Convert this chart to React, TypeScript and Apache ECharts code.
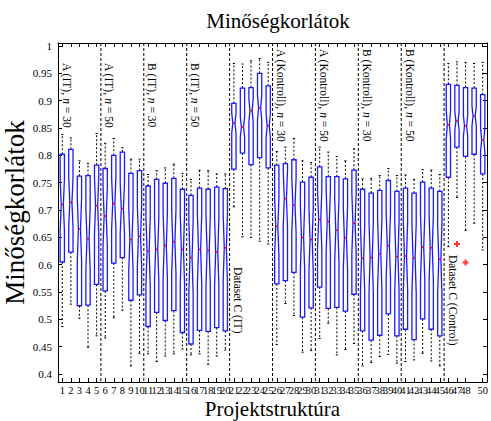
import React, { useEffect, useRef } from "react";
import * as echarts from "echarts";

const positions = [1,2,3,4,5,6,7,8,9,10,11,12,13,14,15,16,17,18,19,20,21,22,23,24,25,26,27,28,29,30,31,32,33,34,35,36,37,38,39,40,41,42,43,44,45,46,47,48,49,50];

const whiskerHigh = [0.838,0.832,0.790,0.785,0.840,0.822,0.831,0.814,0.793,0.793,0.765,0.772,0.777,0.784,0.767,0.756,0.773,0.772,0.766,0.766,0.968,0.967,0.973,0.977,0.970,0.807,0.815,0.831,0.790,0.787,0.815,0.806,0.798,0.790,0.812,0.757,0.758,0.763,0.776,0.763,0.764,0.756,0.774,0.773,0.765,0.968,0.971,0.970,0.968,0.970];
const q3 = [0.802,0.811,0.762,0.763,0.782,0.776,0.800,0.806,0.767,0.772,0.744,0.756,0.749,0.758,0.738,0.727,0.740,0.738,0.742,0.739,0.895,0.923,0.924,0.950,0.927,0.782,0.785,0.792,0.751,0.760,0.779,0.761,0.761,0.757,0.773,0.738,0.731,0.736,0.754,0.734,0.740,0.731,0.751,0.740,0.734,0.930,0.928,0.924,0.923,0.911];
const medians = [0.710,0.714,0.665,0.647,0.708,0.689,0.712,0.703,0.646,0.652,0.625,0.628,0.635,0.642,0.628,0.613,0.628,0.626,0.623,0.631,0.859,0.852,0.882,0.887,0.854,0.670,0.721,0.709,0.650,0.646,0.683,0.679,0.663,0.649,0.676,0.612,0.613,0.620,0.635,0.615,0.616,0.612,0.632,0.631,0.610,0.856,0.863,0.854,0.872,0.828];
const q1 = [0.605,0.623,0.525,0.526,0.564,0.552,0.603,0.613,0.535,0.545,0.487,0.513,0.498,0.516,0.476,0.455,0.480,0.478,0.485,0.479,0.775,0.804,0.783,0.796,0.777,0.565,0.571,0.586,0.504,0.521,0.559,0.520,0.522,0.515,0.546,0.479,0.462,0.471,0.510,0.470,0.482,0.463,0.501,0.482,0.470,0.760,0.815,0.798,0.802,0.766];
const whiskerLow = [0.487,0.528,0.502,0.449,0.470,0.466,0.503,0.517,0.415,0.438,0.437,0.423,0.433,0.437,0.446,0.435,0.437,0.418,0.433,0.444,0.706,0.651,0.650,0.643,0.638,0.454,0.529,0.507,0.440,0.443,0.465,0.493,0.435,0.445,0.456,0.415,0.421,0.432,0.436,0.420,0.423,0.426,0.438,0.424,0.415,0.633,0.723,0.663,0.676,0.627];

// notch half-extent as a fraction of the IQR, per group of five boxes
const notchFactor = [0.24,0.24,0.24,0.24,0.15,0.24,0.24,0.24,0.24,0.15];

const fliers = [[47, 0.638], [48, 0.604]];

const separators = [5.5, 10.5, 15.5, 20.5, 25.5, 30.5, 35.5, 40.5, 45.5];
const groupStarts = [0.5, 5.5, 10.5, 15.5, 20.5, 25.5, 30.5, 35.5, 40.5, 45.5];
const groupNames = ["A (IT)", "A (IT)", "B (IT)", "B (IT)", "Dataset C (IT)", "A (Kontroll)", "A (Kontroll)", "B (Kontroll)", "B (Kontroll)", "Dataset C (Control)"];
const groupN = [30, 50, 30, 50, null, 30, 50, 30, 50, null];

const yTicks = [0.4, 0.45, 0.5, 0.55, 0.6, 0.65, 0.7, 0.75, 0.8, 0.85, 0.9, 0.95, 1];

const FONT = "Liberation Serif";

export default function App() {
  const ref = useRef<HTMLDivElement>(null);
  useEffect(() => {
    if (!ref.current) return;
    const chart = echarts.init(ref.current, undefined, { renderer: "svg" });

    const boxData = positions.map((p, i) => [
      p, whiskerLow[i], q1[i], medians[i], q3[i], whiskerHigh[i],
      notchFactor[Math.floor(i / 5)] * (q3[i] - q1[i]),
    ]);

    const axisCommonX = {
      type: "value" as const,
      min: 0.5,
      max: 50.5,
      splitLine: { show: false },
      axisLine: { show: true, lineStyle: { color: "#000", width: 1 } },
      axisTick: { show: true, inside: true, length: 4, customValues: positions, lineStyle: { color: "#000" } },
    };
    const axisCommonY = {
      type: "value" as const,
      min: 0.3855,
      max: 1.0055,
      splitLine: { show: false },
      axisLine: { show: true, lineStyle: { color: "#000", width: 1 } },
      axisTick: { show: true, inside: true, length: 4, customValues: yTicks, lineStyle: { color: "#000" } },
    };

    chart.setOption({
      animation: false,
      backgroundColor: "#fff",
      title: {
        text: "Minőségkorlátok",
        left: 273,
        top: 5,
        textAlign: "center",
        textStyle: { fontSize: 21, fontWeight: "normal", fontFamily: FONT, color: "#000" },
      },
      grid: { left: 58, right: 4, top: 43, bottom: 39, containLabel: false, outerBoundsMode: "none" },
      xAxis: [
        {
          ...axisCommonX,
          position: "bottom",
          axisLabel: {
            customValues: positions, fontSize: 10.5, color: "#000", fontFamily: FONT, margin: 3,
            hideOverlap: false, showMaxLabel: true, showMinLabel: true,
          },
          name: "Projektstruktúra",
          nameLocation: "middle",
          nameGap: 16,
          nameMoveOverlap: false,
          nameTextStyle: { fontSize: 21, fontFamily: FONT, color: "#000" },
        },
        { ...axisCommonX, position: "top", axisLabel: { show: false } },
      ],
      yAxis: [
        {
          ...axisCommonY,
          position: "left",
          axisLabel: {
            customValues: yTicks,
            fontSize: 11,
            color: "#000",
            fontFamily: FONT,
            margin: 6,
            hideOverlap: false,
            formatter: (v: number) => String(Math.round(v * 100) / 100),
          },
          name: "Minőségkorlátok",
          nameLocation: "middle",
          nameGap: 30,
          nameMoveOverlap: false,
          nameTextStyle: { fontSize: 27, fontFamily: FONT, color: "#000" },
        },
        { ...axisCommonY, position: "right", axisLabel: { show: false } },
      ],
      series: [
        {
          type: "custom",
          name: "separators",
          xAxisIndex: 0,
          yAxisIndex: 0,
          data: separators.map((s) => [s]),
          renderItem: (params: any, api: any) => {
            const cs = params.coordSys;
            const px = api.coord([api.value(0), 0.7])[0];
            return {
              type: "line",
              shape: { x1: px, y1: cs.y, x2: px, y2: cs.y + cs.height },
              style: { stroke: "#000", lineWidth: 1, lineDash: [3, 2] },
            };
          },
        },
        {
          type: "custom",
          name: "boxes",
          xAxisIndex: 0,
          yAxisIndex: 0,
          data: boxData,
          renderItem: (params: any, api: any) => {
            const x = api.value(0);
            const lo = api.value(1), b1 = api.value(2), med = api.value(3), b3 = api.value(4), hi = api.value(5), notch = api.value(6);
            const half = api.size([0.25, 0])[0];
            const nh = half * 0.5;
            const capHalf = half * 0.5;
            const cx = api.coord([x, med])[0];
            const y = (v: number) => api.coord([x, v])[1];
            const L = cx - half, R = cx + half;
            const yMed = y(med), yN1 = y(med - notch), yN3 = y(med + notch);
            const points = [
              [L, y(b1)], [R, y(b1)], [R, yN1], [cx + nh, yMed], [R, yN3], [R, y(b3)],
              [L, y(b3)], [L, yN3], [cx - nh, yMed], [L, yN1],
            ];
            const dash = { stroke: "#000", lineWidth: 1, lineDash: [2, 2] };
            const solid = { stroke: "#000", lineWidth: 1 };
            return {
              type: "group",
              children: [
                { type: "line", shape: { x1: cx, y1: y(b3), x2: cx, y2: y(hi) }, style: dash },
                { type: "line", shape: { x1: cx, y1: y(b1), x2: cx, y2: y(lo) }, style: dash },
                { type: "line", shape: { x1: cx - capHalf, y1: y(hi), x2: cx + capHalf, y2: y(hi) }, style: solid },
                { type: "line", shape: { x1: cx - capHalf, y1: y(lo), x2: cx + capHalf, y2: y(lo) }, style: solid },
                { type: "polygon", shape: { points }, style: { fill: "none", stroke: "#1a1aff", lineWidth: 1.3 } },
                { type: "line", shape: { x1: cx - nh, y1: yMed, x2: cx + nh, y2: yMed }, style: { stroke: "#ff0000", lineWidth: 1.5 } },
              ],
            };
          },
        },
        {
          type: "custom",
          name: "groupLabels",
          xAxisIndex: 0,
          yAxisIndex: 0,
          data: groupStarts.map((s) => [s]),
          renderItem: (params: any, api: any) => {
            const i = params.dataIndex;
            const n = groupN[i];
            const isC = n === null;
            const [px, py] = api.coord([api.value(0), isC ? 0.535 : 0.91]);
            const text = isC ? `{r|${groupNames[i]}}` : `{r|${groupNames[i]}, }{i|n}{r| = ${n}}`;
            return {
              type: "text",
              x: px + 8.5,
              y: py,
              rotation: -Math.PI / 2,
              style: {
                text,
                align: "center",
                verticalAlign: "middle",
                fill: "#000",
                fontSize: 11.5,
                fontFamily: FONT,
                rich: {
                  r: { fontSize: 11.5, fontFamily: FONT, fill: "#000", color: "#000" },
                  i: { fontSize: 11.5, fontFamily: FONT, fontStyle: "italic", fill: "#000", color: "#000" },
                },
              },
            };
          },
        },
        {
          type: "scatter",
          name: "fliers",
          xAxisIndex: 0,
          yAxisIndex: 0,
          data: fliers,
          symbol: "path://M2,0H4V2H6V4H4V6H2V4H0V2H2Z",
          symbolSize: 6,
          itemStyle: { color: "#ff0000" },
        },
      ],
    });
    return () => chart.dispose();
  }, []);
  return <div ref={ref} style={{ width: 491, height: 421, position: "absolute", left: 0, top: 0 }} />;
}
